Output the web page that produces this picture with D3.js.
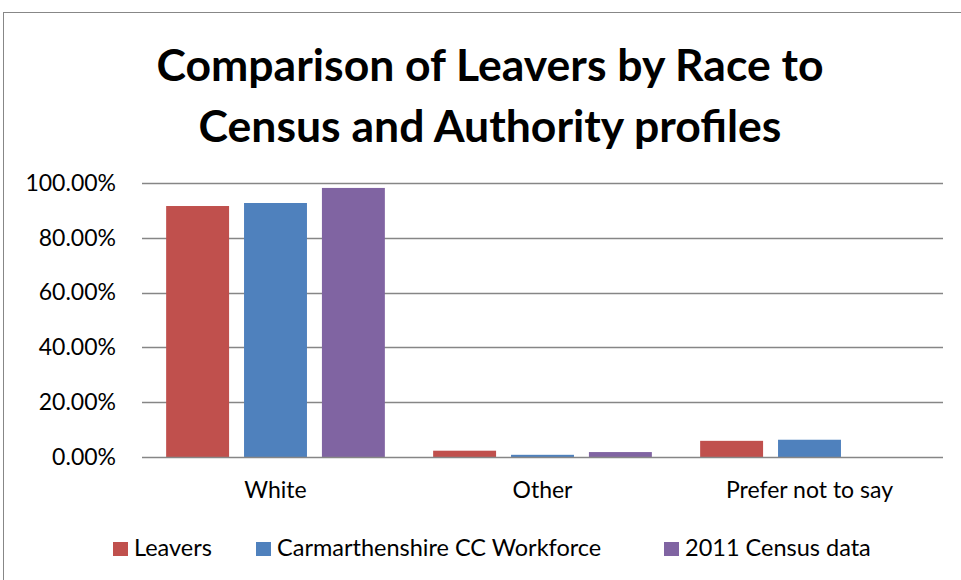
<!DOCTYPE html>
<html><head><meta charset="utf-8">
<script src="https://cdn.jsdelivr.net/npm/d3@7"></script>
<style>body{margin:0;background:#fff}svg{display:block}</style>
</head><body>
<svg id="chart" width="961" height="580"></svg>
<script>
const categories = ["White", "Other", "Prefer not to say"];
const seriesNames = ["Leavers", "Carmarthenshire CC Workforce", "2011 Census data"];
const leavers = [0.916, 0.023, 0.059];
const workforce = [0.927, 0.008, 0.063];
const census = [0.982, 0.018, 0];
const yTicks = [0, 0.2, 0.4, 0.6, 0.8, 1.0];
const colors = ["#C0504D", "#4F81BD", "#8064A2"];
const titleLines = ["Comparison of Leavers by Race to", "Census and Authority profiles"];

const seriesValues = [leavers, workforce, census];
const svg = d3.select("#chart");
const font = "Lato, 'Open Sans', sans-serif";

// frame
svg.append("rect").attr("x", 3.5).attr("y", 12.5).attr("width", 970).attr("height", 600)
  .attr("fill", "none").attr("stroke", "#878787").attr("stroke-width", 1);

const pL = 142, pR = 943, pT = 183, pB = 457;
const x0 = d3.scaleBand().domain(categories).range([pL, pR]).padding(0);
const x1 = d3.scaleBand().domain(seriesNames).range([0, x0.bandwidth()]).paddingInner(0.192).paddingOuter(0.31);
const y = d3.scaleLinear().domain([0, 1]).range([pB, pT]);

// gridlines
svg.append("g").selectAll("line").data(yTicks.filter(d => d > 0)).join("line")
  .attr("x1", pL).attr("x2", pR)
  .attr("y1", d => Math.round(y(d)) + 0.5).attr("y2", d => Math.round(y(d)) + 0.5)
  .attr("stroke", "#868686").attr("stroke-width", 1.3);

// bars
const data = [];
categories.forEach((c, i) => seriesNames.forEach((s, j) => data.push({c, s, v: seriesValues[j][i], j})));
svg.append("g").selectAll("rect").data(data).join("rect")
  .attr("x", d => x0(d.c) + x1(d.s)).attr("width", x1.bandwidth())
  .attr("y", d => y(d.v)).attr("height", d => pB - y(d.v))
  .attr("fill", d => colors[d.j]);

// baseline axis
svg.append("line").attr("x1", pL).attr("x2", pR).attr("y1", pB + 0.5).attr("y2", pB + 0.5)
  .attr("stroke", "#868686").attr("stroke-width", 1.5);

// y axis labels
const yAxis = d3.axisLeft(y).tickValues(yTicks).tickFormat(d => (d * 100).toFixed(2) + "%").tickSize(0).tickPadding(26);
const ga = svg.append("g").attr("transform", `translate(${pL},0)`).call(yAxis);
ga.select(".domain").remove();
ga.selectAll("text").attr("font-family", font).attr("font-size", 23).attr("fill", "#000");

// x axis labels
const xAxis = d3.axisBottom(x0).tickSize(0).tickPadding(25);
const gx = svg.append("g").attr("transform", `translate(0,${pB})`).call(xAxis);
gx.select(".domain").remove();
gx.selectAll("text").attr("font-family", font).attr("font-size", 23).attr("fill", "#000");

// title
svg.append("g").selectAll("text").data(titleLines).join("text")
  .attr("x", 490).attr("y", (d, i) => 81 + i * 61).attr("text-anchor", "middle")
  .attr("font-family", font).attr("font-weight", "bold").attr("font-size", 44.5).attr("fill", "#000")
  .text(d => d);

// legend
const legendX = [113, 256, 664];
const lg = svg.append("g").selectAll("g").data(seriesNames).join("g")
  .attr("transform", (d, i) => `translate(${legendX[i]},556)`);
lg.append("rect").attr("x", 0).attr("y", -14).attr("width", 15).attr("height", 14).attr("fill", (d, i) => colors[i]);
lg.append("text").attr("x", 21).attr("y", 0).attr("font-family", font).attr("font-size", 23.5).attr("fill", "#000").text(d => d);
</script>
</body></html>
